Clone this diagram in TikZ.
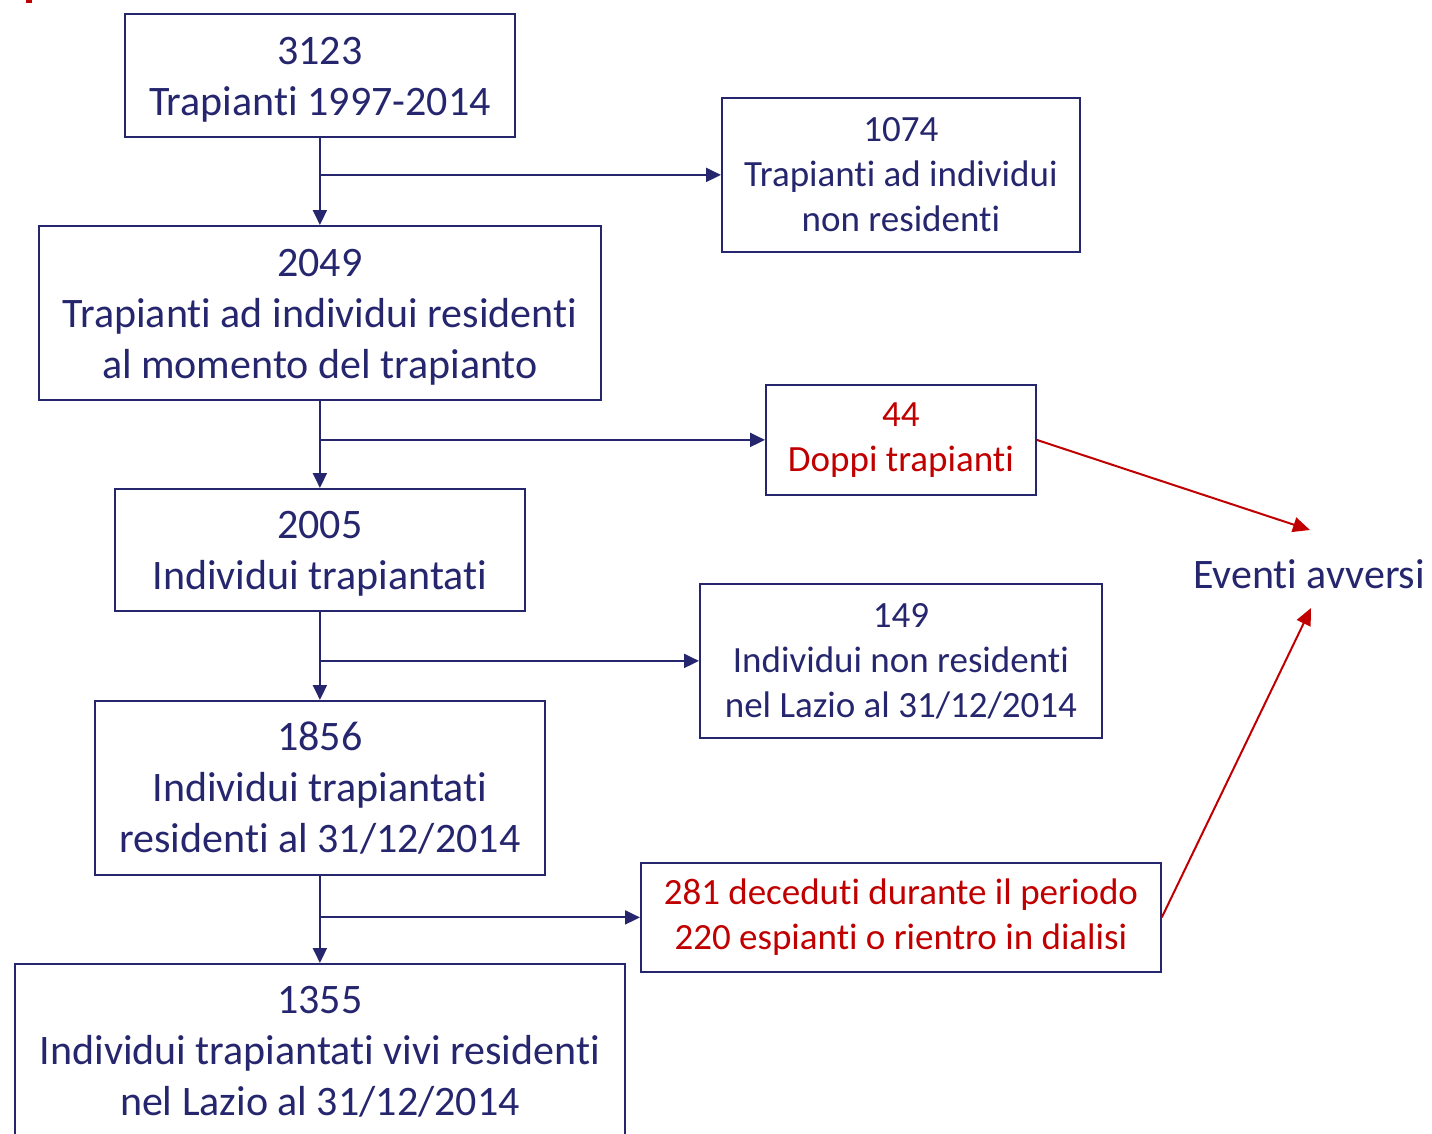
\documentclass[tikz,border=0pt]{standalone}
\usepackage{fontspec}
\setmainfont{Carlito}[Ligatures=NoCommon]
\usetikzlibrary{arrows.meta}
\definecolor{navy}{RGB}{38,38,110}
\definecolor{dred}{RGB}{192,0,0}
\begin{document}
\begin{tikzpicture}[x=1pt,y=-1pt,
  box/.style={draw=navy, line width=1.8pt, inner sep=0pt, align=center, anchor=north west},
  big/.style={font=\fontsize{42}{51}\selectfont, text=navy, align=center},
  bigtext/.style={label={[big, inner sep=0pt, yshift=-4pt]center:{#1}}},
  bigtextb/.style={label={[big, inner sep=0pt]center:{#1}}},
  small/.style={font=\fontsize{37}{45}\selectfont, text=navy},
  redtext/.style={text=dred},
  flow/.style={draw=navy, line width=2pt, -{Triangle[length=15pt,width=14pt]}},
  redflow/.style={draw=dred, line width=2pt, -{Triangle[length=17pt,width=15pt]}}]
\useasboundingbox (0,0) rectangle (1432,1133);
\fill[dred] (26,0) rectangle (32,3);
% main column
\node[box, minimum width=390pt, minimum height=123pt, bigtext={3123\\Trapianti 1997-2014}] (b1) at (124,13) {};
\node[box, minimum width=562pt, minimum height=174pt, bigtext={2049\\Trapianti ad individui residenti\\al momento del trapianto}] (b2) at (38,225) {};
\node[box, minimum width=410pt, minimum height=122pt, bigtext={2005\\Individui trapiantati}] (b3) at (114,488) {};
\node[box, minimum width=450pt, minimum height=174pt, bigtextb={1856\\Individui trapiantati\\residenti al 31/12/2014}] (b4) at (94,700) {};
\node[box, minimum width=610pt, minimum height=176pt, bigtextb={1355\\Individui trapiantati vivi residenti\\nel Lazio al 31/12/2014}] (b5) at (14,963) {};
% side boxes
\node[box, small, minimum width=358pt, minimum height=154pt] (r1) at (721,97) {1074\\Trapianti ad individui\\non residenti};
\node[box, small, redtext, minimum width=270pt, minimum height=110pt] (r2) at (765,384) {44\\Doppi trapianti};
\node[box, small, minimum width=402pt, minimum height=154pt] (r3) at (699,583) {149\\Individui non residenti\\nel Lazio al 31/12/2014};
\node[box, small, redtext, minimum width=520pt, minimum height=109pt] (r4) at (640,862) {281 deceduti durante il periodo\\220 espianti o rientro in dialisi};
\node[big, inner sep=0pt] (ev) at (1309,574) {Eventi avversi};
\coordinate (evtop) at (1310,530);
\coordinate (evbot) at (1311,608);
% connectors
\draw[flow] (b1.south) -- (b2.north);
\draw[flow] (b2.south) -- (b3.north);
\draw[flow] (b3.south) -- (b4.north);
\draw[flow] (b4.south) -- (b5.north);
\draw[flow] (b1.south |- r1.west) -- (r1.west);
\draw[flow] (b2.south |- r2.west) -- (r2.west);
\draw[flow] (b3.south |- r3.west) -- (r3.west);
\draw[flow] (b4.south |- r4.west) -- (r4.west);
\draw[redflow] (r2.east) -- (evtop);
\draw[redflow] (r4.east) -- (evbot);
\end{tikzpicture}
\end{document}
